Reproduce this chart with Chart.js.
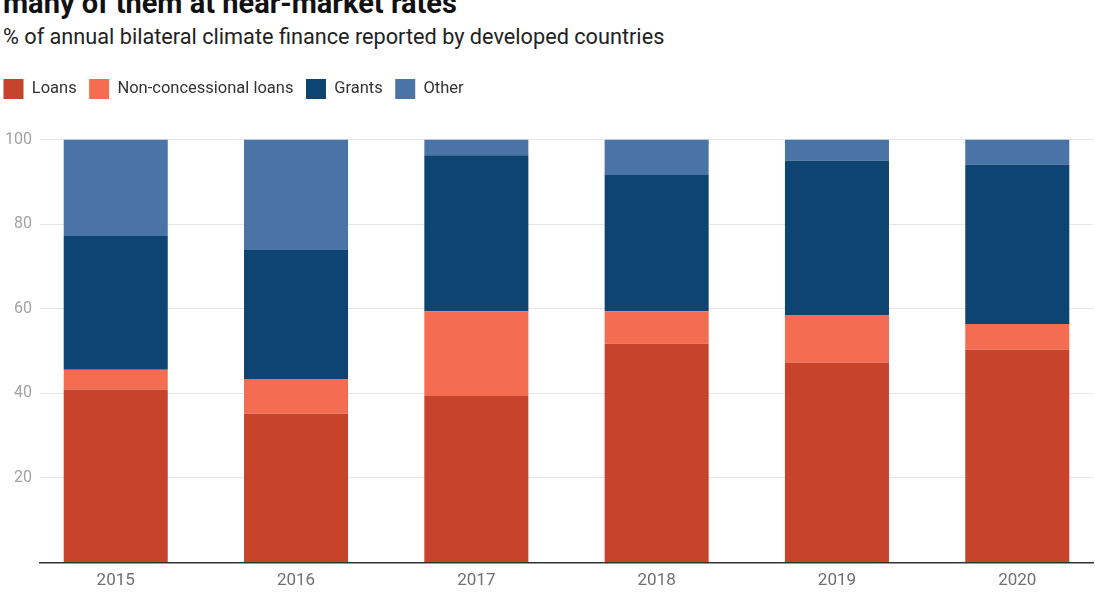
<!DOCTYPE html>
<html>
<head>
<meta charset="utf-8">
<script src="https://cdn.jsdelivr.net/npm/chart.js@4"></script>
<style>
  html, body { margin: 0; padding: 0; background: #fff; overflow: hidden; }
  #wrap { position: relative; width: 1095px; height: 600px; overflow: hidden; }
  #title { position: absolute; left: 3px; top: -11px; font: bold 29px Roboto, sans-serif; line-height: 28px; color: #111; white-space: nowrap; }
  #sub { position: absolute; left: 3px; top: 25px; font: 21.7px Roboto, sans-serif; line-height: 24px; color: #222; white-space: nowrap; }
  #box { position: absolute; left: -9px; top: 0; width: 1104px; height: 600px; }
</style>
</head>
<body>
<div id="wrap">
  <div id="title">many of them at near-market rates</div>
  <div id="sub">% of annual bilateral climate finance reported by developed countries</div>
  <div id="box"><canvas id="grafico"></canvas></div>
</div>
<script>
// values (% of each year's total)
var years = [2015, 2016, 2017, 2018, 2019, 2020];
var loans = [40.9, 35.2, 39.4, 51.7, 47.3, 50.3];
var nonConcessional = [4.7, 8.2, 20.0, 7.7, 11.1, 6.1];
var grants = [31.6, 30.5, 36.9, 32.2, 36.6, 37.7];
var other = [22.8, 26.1, 3.7, 8.4, 5.0, 5.9];
var yTicks = [0, 20, 40, 60, 80, 100];

var xMin = years[0] - 0.42;
var xMax = years[years.length - 1] + 0.42;

// extra space between legend and plot
var legendGap = {
    id: 'legendGap',
    beforeInit: function (chart) {
        var fit = chart.legend.fit;
        chart.legend.fit = function () {
            fit.call(this);
            this.height += 30.5;
        };
    }
};

new Chart(document.getElementById("grafico"), {
    type: 'bar',
    data: {
        labels: years,
        datasets: [
            { label: "Loans", backgroundColor: "#c8432b", data: loans },
            { label: "Non-concessional loans", backgroundColor: "#f46d52", data: nonConcessional },
            { label: "Grants", backgroundColor: "#0e4471", data: grants },
            { label: "Other", backgroundColor: "#4b74a6", data: other }
        ]
    },
    plugins: [legendGap],
    options: {
        responsive: true,
        maintainAspectRatio: false,
        animation: false,
        layout: { padding: { top: 66.5, right: 2, left: 0, bottom: 1 } },
        datasets: { bar: { categoryPercentage: 1, barPercentage: 0.577 } },
        plugins: {
            tooltip: { enabled: false },
            legend: {
                position: 'top',
                align: 'start',
                labels: {
                    boxWidth: 20,
                    boxHeight: 20,
                    padding: 12.5,
                    color: '#333',
                    font: { family: 'Roboto', size: 16.5 }
                }
            }
        },
        scales: {
            x: {
                type: 'linear',
                stacked: true,
                offset: false,
                bounds: 'data',
                min: xMin,
                max: xMax,
                afterBuildTicks: function (s) {
                    s.ticks = years.map(function (v) { return { value: v }; });
                },
                grid: { display: false, drawTicks: false, offset: false },
                border: { display: true, color: '#333', width: 1.5 },
                ticks: {
                    color: '#707070',
                    padding: 8,
                    font: { family: 'Roboto', size: 17 },
                    callback: function (v) { return String(v); }
                }
            },
            y: {
                stacked: true,
                min: 0,
                max: 100,
                afterBuildTicks: function (s) { s.ticks = yTicks.map(function (v) { return { value: v }; }); },
                afterFit: function (s) { s.width = 49; },
                grid: { color: '#e6e6e6', drawTicks: false },
                border: { display: false },
                ticks: {
                    color: '#a3a3a3',
                    padding: 8,
                    font: { family: 'Roboto', size: 16 },
                    callback: function (v) { return v === 0 ? '' : v; }
                }
            }
        }
    }
});
</script>
</body>
</html>
